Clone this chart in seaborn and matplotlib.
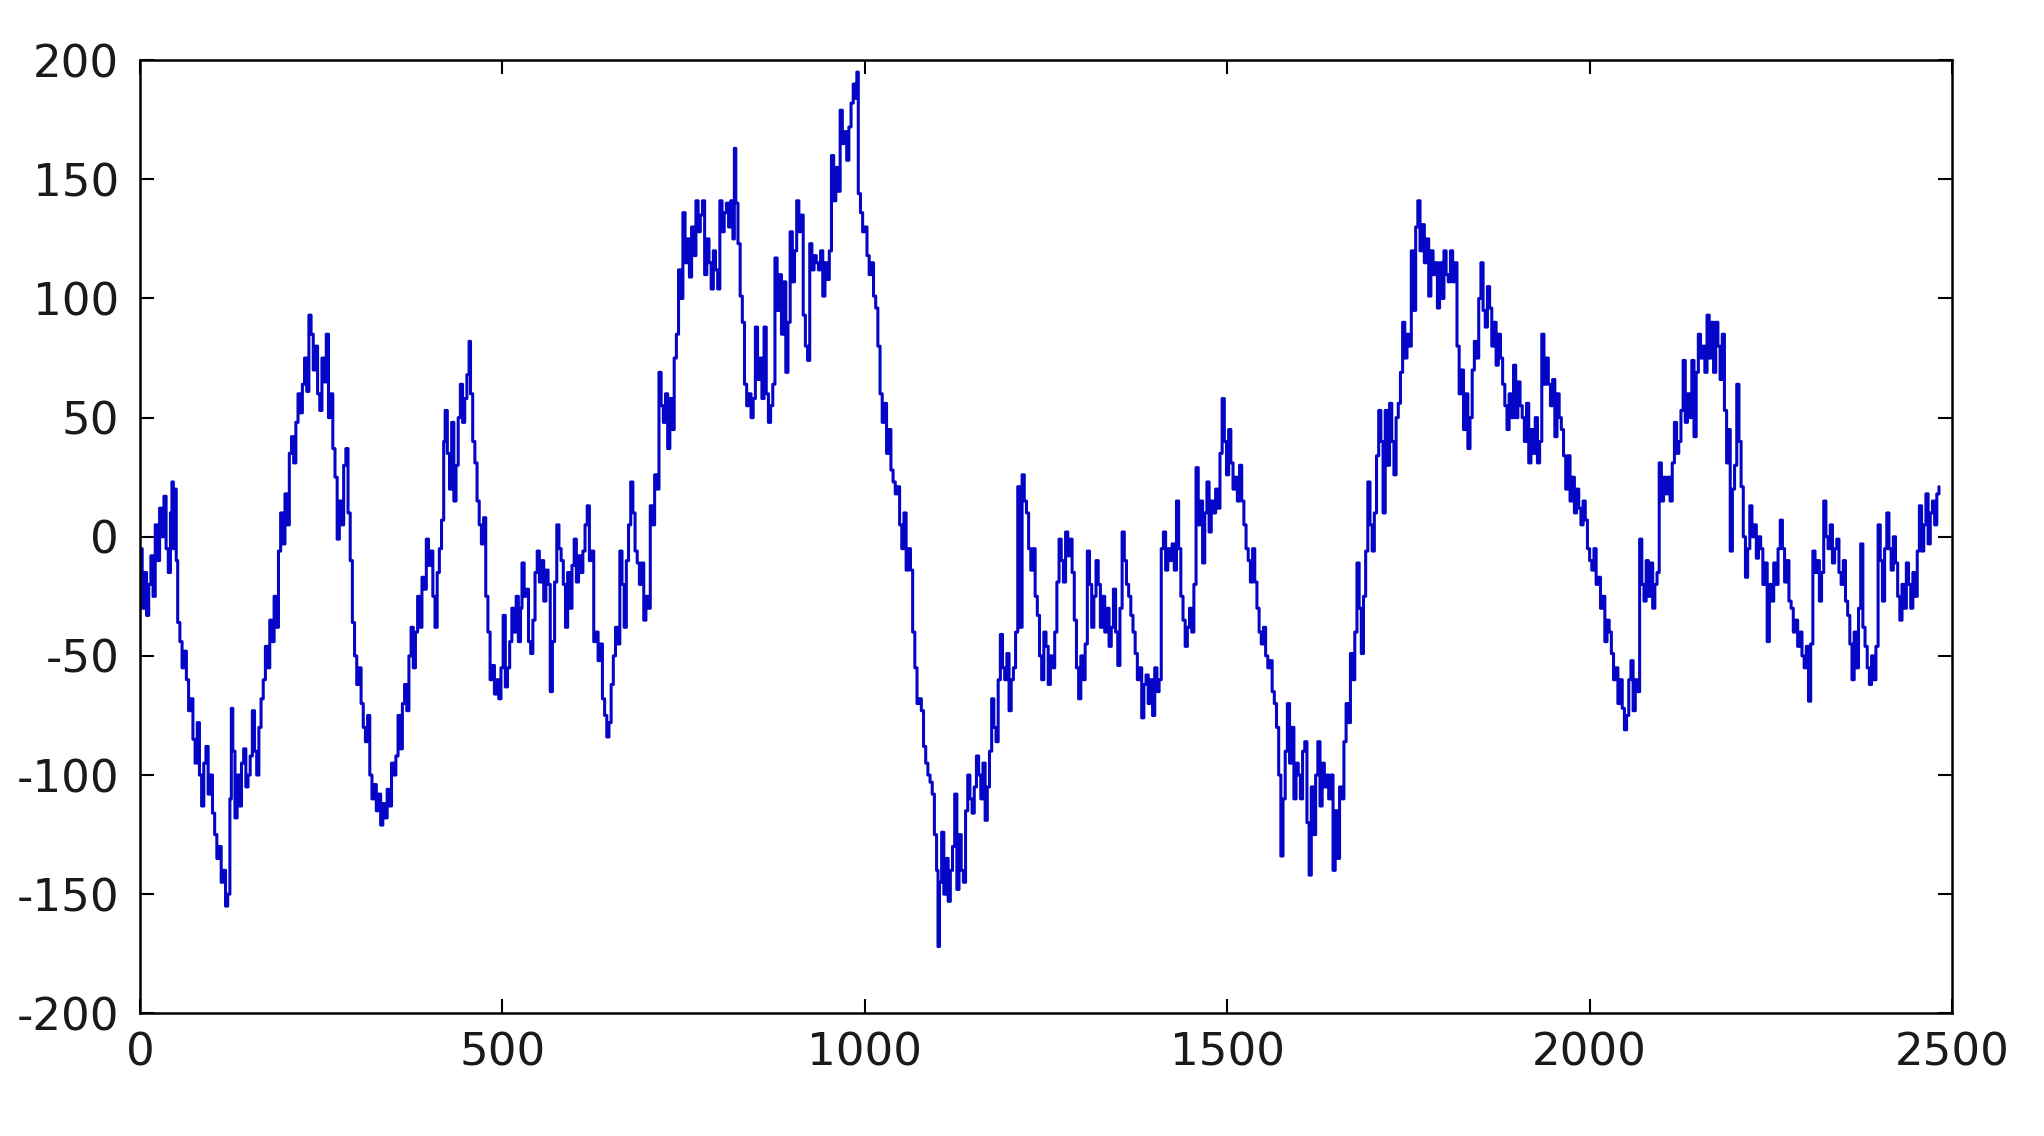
import matplotlib
matplotlib.use("Agg")
import matplotlib.pyplot as plt
from matplotlib import font_manager
import seaborn as sns
import pandas as pd

# ---- data (sample index, value) ----
seg1_x = [0,3,6,9,12,15,18,21,24,27,30,33,36,39,42,44,46,48,50,52,55,58,61,64,67,70,73,76,79,82,85,88,91,94,97,100,103,106,109,112,115,118,121,124,126,128,131,134,137,140,143,146,149,152,155,158,161,164,167,170,173,176,179,182,185,188,191,194,197,200,203,206,209,212,215,218,221,224,227,230,233,236,239,242,245,248,251,254,257,260,263,266,269,272,275,278,281,284,287,290,293,296,299,302,305,308,311,314,317,320,323,326,329,332,335,338,341,344,347,350,353,356,359,362,365,368,371,374,377,380,383,386,389,392,395,398,401,404,407,410,413,416,419,421,424,427,430,433,436,439,442,445,448,451,454,456,459,462,465,468,471,474,477,480,483,486,489,492,495,498]
seg1_y = [-5,-30,-15,-33,-20,-8,-25,5,-10,12,0,17,-5,-15,10,23,-5,20,-10,-36,-44,-55,-48,-60,-73,-68,-85,-95,-78,-100,-113,-95,-88,-108,-100,-116,-125,-135,-130,-145,-140,-155,-150,-110,-72,-90,-118,-100,-113,-95,-89,-105,-100,-92,-73,-90,-100,-80,-68,-60,-46,-55,-35,-44,-25,-38,-6,10,-3,18,5,35,42,31,48,60,52,64,75,61,93,85,70,80,60,53,75,65,85,50,60,37,25,-1,15,5,30,37,10,-10,-36,-50,-62,-55,-70,-80,-86,-75,-100,-110,-104,-115,-108,-121,-112,-118,-106,-113,-95,-100,-92,-75,-89,-70,-62,-73,-50,-38,-55,-40,-25,-38,-17,-22,-1,-12,-6,-25,-38,-15,-5,7,40,53,35,20,48,15,30,50,64,48,58,68,82,60,40,31,15,5,-3,8,-25,-40,-60,-54,-66,-60,-68,-55]

seg2_x = [501,504,507,510,513,516,519,522,525,527,530,533,536,539,542,545,548,551,554,557,560,563,566,569,572,575,578,581,584,587,590,593,596,599,602,605,608,611,614,617,620,623,626,629,632,635,638,641,644,647,650,653,656,659,662,665,668,671,674,677,680,683,686,689,692,695,698,701,704,707,710,713,716,719,722,725,728,731,734,737,740,743,746,749,752,755,758,761,764,767,770,773,776,779,782,785,788,791,794,797,800,803,806,809,812,815,818,820,822,825,828,831,834,837,840,843,846,849,852,855,858,861,864,867,870,873,876,879,882,885,888,891,894,897,900,903,906,909,912,915,918,921,924,927,930,933,936,939,942,945,948,951,954,957,960,963,966,969,972,975,978,981,984,987,989,991,994,997]
seg2_y = [-33,-63,-55,-44,-30,-40,-25,-44,-30,-11,-25,-22,-44,-49,-35,-15,-6,-19,-10,-27,-14,-20,-65,-44,-19,5,-5,-10,-20,-38,-15,-30,-12,-1,-19,-8,-15,-6,5,13,-10,-6,-44,-40,-52,-45,-68,-75,-84,-78,-62,-50,-38,-45,-6,-20,-38,-10,5,23,10,-6,-11,-20,-11,-35,-25,-30,13,5,26,20,69,55,48,60,37,58,45,75,85,112,100,136,115,125,109,130,118,141,128,135,141,110,125,115,104,120,112,104,141,128,136,140,130,141,125,163,140,123,101,90,64,55,60,50,58,88,66,75,58,88,60,48,55,64,117,95,110,85,107,69,90,128,107,120,141,128,135,93,80,74,123,112,118,115,112,120,101,115,108,120,160,141,155,145,179,165,170,158,172,182,190,184,195,144,136,128]

seg3_x = [1000,1003,1006,1009,1012,1015,1018,1021,1024,1027,1030,1033,1036,1039,1042,1045,1048,1051,1054,1057,1060,1063,1066,1069,1072,1075,1078,1081,1084,1087,1090,1093,1096,1099,1101,1103,1106,1109,1112,1115,1118,1121,1124,1127,1130,1133,1136,1139,1142,1145,1148,1151,1154,1157,1160,1163,1166,1169,1172,1175,1178,1181,1184,1187,1190,1193,1196,1199,1202,1205,1208,1211,1214,1217,1220,1223,1226,1229,1232,1235,1238,1241,1244,1247,1250,1253,1256,1259,1262,1265,1268,1271,1274,1277,1280,1283,1286,1289,1292,1295,1298,1301,1304,1307,1310,1313,1316,1319,1322,1325,1328,1331,1334,1337,1340,1343,1346,1349,1352,1355,1358,1361,1364,1367,1370,1373,1376,1379,1382,1385,1388,1391,1394,1397,1400,1403,1406,1409,1412,1415,1418,1421,1424,1427,1430,1433,1436,1439,1442,1445,1448,1451,1454,1457,1460,1463,1466,1469,1472,1475,1478,1481,1484,1487,1490,1493,1496,1499]
seg3_y = [130,118,110,115,101,96,80,60,48,56,35,45,28,23,18,21,5,-5,10,-14,-5,-14,-40,-55,-70,-68,-73,-88,-95,-100,-103,-108,-125,-140,-172,-145,-124,-150,-135,-153,-140,-130,-108,-148,-125,-140,-145,-115,-100,-110,-116,-105,-92,-100,-110,-95,-119,-105,-90,-68,-80,-86,-60,-41,-55,-60,-49,-73,-60,-55,-40,21,-38,26,15,10,-5,-14,-5,-25,-33,-50,-60,-40,-46,-62,-50,-55,-40,-19,-1,-10,-19,2,-8,-1,-15,-35,-55,-68,-50,-60,-45,-6,-20,-38,-25,-10,-20,-38,-25,-40,-30,-46,-38,-22,-40,-54,-30,2,-10,-20,-25,-33,-40,-49,-60,-55,-76,-62,-58,-70,-60,-75,-55,-65,-60,-5,2,-14,-5,-10,-3,-14,15,-5,-25,-35,-46,-38,-30,-40,-20,29,5,15,-11,10,23,2,15,10,20,12,35,58,40,26]

seg4_x = [1502,1505,1508,1511,1514,1517,1520,1523,1526,1529,1532,1535,1538,1541,1544,1547,1550,1553,1556,1559,1562,1565,1568,1571,1574,1577,1580,1583,1586,1589,1592,1595,1598,1601,1604,1607,1610,1613,1616,1619,1622,1625,1628,1631,1634,1637,1640,1643,1646,1649,1652,1655,1658,1661,1664,1667,1670,1673,1676,1679,1682,1685,1688,1691,1694,1697,1700,1703,1706,1709,1712,1715,1718,1721,1724,1727,1730,1733,1736,1739,1742,1745,1748,1751,1754,1757,1760,1763,1766,1769,1772,1775,1778,1781,1784,1787,1790,1793,1796,1799,1802,1805,1808,1811,1814,1817,1820,1823,1826,1829,1832,1835,1838,1841,1844,1847,1850,1853,1856,1859,1862,1865,1868,1871,1874,1877,1880,1883,1886,1889,1892,1895,1898,1901,1904,1907,1910,1913,1916,1919,1922,1925,1928,1931,1934,1937,1940,1943,1946,1949,1952,1955,1958,1961,1964,1967,1970,1973,1976,1979,1982,1985,1988,1991,1994,1997]
seg4_y = [45,31,20,25,15,30,15,5,-5,-10,-19,-5,-19,-30,-40,-45,-38,-50,-55,-52,-65,-70,-80,-100,-134,-110,-90,-70,-95,-80,-110,-95,-100,-110,-90,-86,-120,-142,-105,-125,-100,-86,-113,-95,-105,-100,-110,-100,-140,-115,-135,-105,-110,-86,-70,-78,-49,-60,-40,-11,-30,-49,-25,-6,23,5,-6,10,34,53,40,10,53,30,56,40,26,50,56,69,90,75,85,80,120,95,130,141,120,131,115,125,101,120,110,115,96,115,100,120,110,107,120,107,115,80,60,70,45,60,37,50,70,82,75,100,115,95,88,105,96,80,90,72,85,75,64,55,45,60,50,72,50,65,55,50,40,56,31,45,35,50,31,40,85,64,75,64,55,66,42,60,50,45,34,20,34,15,25,10,20,12,5,15,7,-5]

seg5_x = [2000,2003,2006,2009,2012,2015,2018,2021,2024,2027,2030,2033,2036,2039,2042,2045,2048,2051,2054,2057,2060,2063,2066,2069,2072,2075,2078,2081,2084,2087,2090,2093,2096,2099,2102,2105,2108,2111,2114,2117,2120,2123,2126,2129,2132,2135,2138,2141,2144,2147,2150,2153,2156,2159,2162,2165,2168,2171,2174,2177,2180,2183,2186,2189,2192,2194,2197,2200,2203,2206,2209,2212,2215,2218,2221,2224,2227,2230,2233,2236,2239,2242,2245,2248,2251,2254,2257,2260,2263,2266,2269,2272,2275,2278,2281,2284,2287,2290,2293,2296,2299,2302,2305,2308,2311,2314,2317,2320,2323,2326,2329,2332,2335,2338,2341,2344,2347,2350,2353,2356,2359,2362,2365,2368,2371,2374,2377,2380,2383,2386,2389,2392,2395,2398,2401,2404,2407,2410,2413,2416,2419,2422,2425,2428,2431,2434,2437,2440,2443,2446,2449,2452,2455,2458,2461,2464,2467,2470,2473,2476,2479,2482]
seg5_y = [-10,-14,-5,-20,-17,-30,-25,-44,-35,-40,-49,-60,-55,-70,-60,-72,-81,-75,-60,-52,-73,-60,-65,-1,-20,-27,-10,-25,-11,-30,-20,-15,31,15,25,18,25,15,31,48,35,40,53,74,48,60,50,74,42,69,85,75,80,69,93,75,90,69,90,80,66,85,53,31,45,-6,20,30,64,40,21,0,-17,-5,13,0,5,-9,0,-5,-20,-11,-44,-20,-27,-11,-20,-5,7,-5,-19,-10,-27,-30,-40,-35,-46,-40,-50,-55,-46,-69,-45,-6,-15,-10,-27,-15,15,0,-5,5,-11,-5,-1,-15,-20,-10,-27,-33,-45,-60,-40,-55,-30,-3,-38,-46,-55,-62,-50,-60,-46,5,-10,-27,-5,10,-5,-14,0,-11,-25,-35,-20,-30,-11,-20,-30,-15,-25,-6,13,-6,5,18,-3,10,15,5,18,21]

x_ticks = [0, 500, 1000, 1500, 2000, 2500]
y_ticks = [-200, -150, -100, -50, 0, 50, 100, 150, 200]

df = pd.DataFrame({
    "n": seg1_x + seg2_x + seg3_x + seg4_x + seg5_x,
    "value": seg1_y + seg2_y + seg3_y + seg4_y + seg5_y,
})

sns.set_theme(style="white")
installed = {f.name for f in font_manager.fontManager.ttflist}
if "Liberation Sans Narrow" in installed:
    tick_font = ["Liberation Sans Narrow", "DejaVu Sans"]
    tick_size = 42
elif "DejaVu Sans Condensed" in installed:
    tick_font = ["DejaVu Sans Condensed", "DejaVu Sans"]
    tick_size = 38
else:
    tick_font = ["DejaVu Sans"]
    tick_size = 32.5
plt.rcParams["font.family"] = tick_font
plt.rcParams["axes.unicode_minus"] = False

fig = plt.figure(figsize=(20.44, 11.36), dpi=100)
ax = fig.add_axes([0.0685, 0.108, 0.8865, 0.839])

sns.lineplot(data=df, x="n", y="value", ax=ax, color="#0505c8",
             linewidth=2.2, drawstyle="steps-post", sort=False,
             estimator=None)

ax.set_xlim(0, 2500)
ax.set_ylim(-200, 200)
ax.set_xticks(x_ticks)
ax.set_yticks(y_ticks)
ax.set_xlabel("")
ax.set_ylabel("")
for s in ax.spines.values():
    s.set_visible(True)
    s.set_color("black")
    s.set_linewidth(1.8)
ax.tick_params(direction="in", length=10, width=1.5, colors="black",
               labelsize=tick_size, top=True, right=True, bottom=True, left=True,
               labelcolor="#1a1a1a")
ax.tick_params(axis="y", pad=15)
ax.tick_params(axis="x", pad=13)
ax.grid(False)

fig.savefig("out.png", dpi=100, facecolor="white")
